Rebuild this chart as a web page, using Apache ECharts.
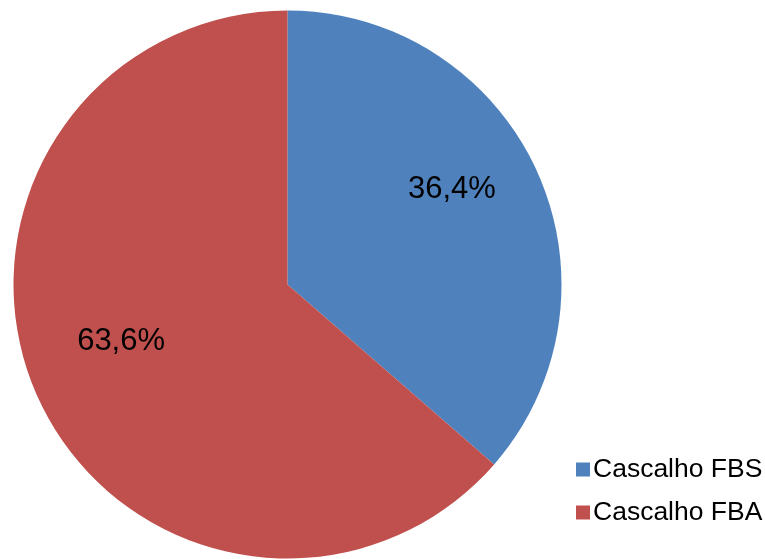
<!DOCTYPE html>
<html><head><meta charset="utf-8">
<script src="https://cdn.jsdelivr.net/npm/echarts@6/dist/echarts.min.js"></script>
<style>html,body{margin:0;padding:0;background:#fff}#c{width:765px;height:559px}</style>
</head><body><div id="c"></div>
<script>
const categories = ['Cascalho FBS', 'Cascalho FBA'];
const values = [36.4, 63.6];
const colors = ['#4F81BD', '#C0504D'];
const labelShift = [[37, -37], [-39, -1]];

const chart = echarts.init(document.getElementById('c'));
chart.setOption({
  animation: false,
  legend: {
    orient: 'vertical',
    left: 571, top: 451,
    itemWidth: 14, itemHeight: 14, itemGap: 16,
    icon: 'rect',
    textStyle: { fontFamily: 'Liberation Sans, Arial', fontSize: 26.5, color: '#000', padding: [0,0,0,-2] },
    data: categories
  },
  series: [{
    type: 'pie',
    center: [287.5, 284.5],
    radius: 274,
    startAngle: 90,
    clockwise: true,
    silent: true,
    label: {
      position: 'inside',
      fontFamily: 'Liberation Sans, Arial',
      fontSize: 31,
      color: '#000',
      formatter: p => p.value.toFixed(1).replace('.', ',') + '%'
    },
    labelLayout: p => ({ dx: labelShift[p.dataIndex][0], dy: labelShift[p.dataIndex][1] }),
    itemStyle: { borderWidth: 0 },
    data: categories.map((c, i) => ({ name: c, value: values[i], itemStyle: { color: colors[i] } }))
  }]
});
</script></body></html>
